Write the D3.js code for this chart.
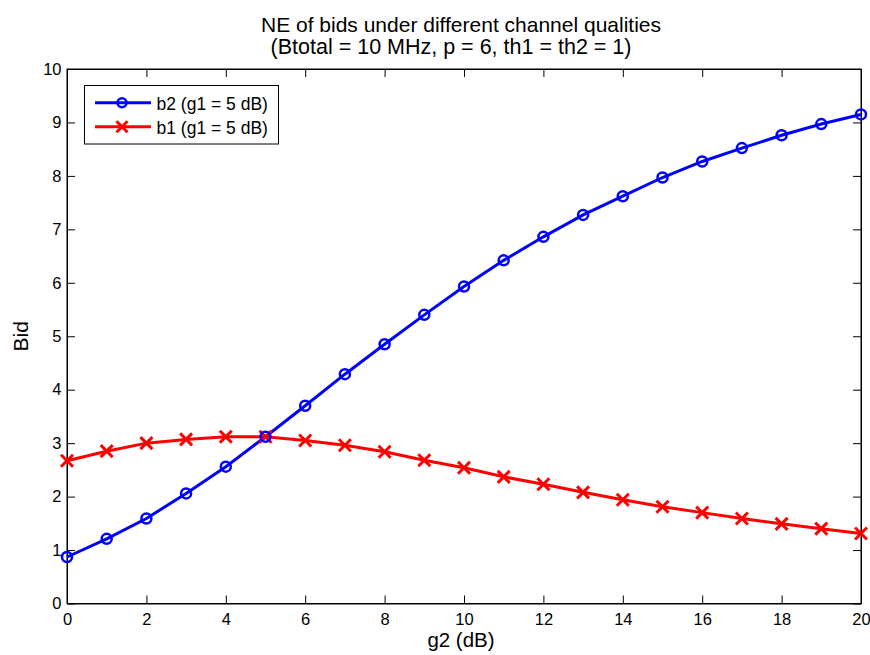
<!DOCTYPE html>
<html>
<head>
<meta charset="utf-8">
<script src="https://cdn.jsdelivr.net/npm/d3@7"></script>
<style>
  html, body { margin: 0; padding: 0; background: #fff; }
  svg text { font-family: "Liberation Sans", Arial, sans-serif; fill: #000; }
</style>
</head>
<body>
<svg id="chart" width="870" height="655"></svg>
<script>
// g2 channel quality (dB)
const g2 = [0,1,2,3,4,5,6,7,8,9,10,11,12,13,14,15,16,17,18,19,20];
// Equilibrium bids
const b2 = [0.87,1.21,1.59,2.06,2.56,3.12,3.70,4.29,4.85,5.40,5.93,6.42,6.86,7.27,7.62,7.97,8.27,8.52,8.76,8.97,9.15];
const b1 = [2.67,2.85,3.00,3.07,3.12,3.12,3.05,2.96,2.84,2.68,2.54,2.37,2.23,2.08,1.94,1.81,1.70,1.59,1.49,1.40,1.31];
const xTicks = [0,2,4,6,8,10,12,14,16,18,20];
const yTicks = [0,1,2,3,4,5,6,7,8,9,10];
const seriesNames = ["b2 (g1 = 5 dB)", "b1 (g1 = 5 dB)"];
const titleLines = ["NE of bids under different channel qualities", "(Btotal = 10 MHz, p = 6, th1 = th2 = 1)"];

const svg = d3.select("#chart");
const L = 67, R = 861, T = 69, B = 603.5;
const x = d3.scaleLinear().domain([0, 20]).range([L, R]);
const y = d3.scaleLinear().domain([0, 10]).range([B, T]);
const tickLen = 8;
const tickFont = 16.5;

// Frame
svg.append("rect").attr("x", L).attr("y", T).attr("width", R - L).attr("height", B - T)
  .attr("fill", "none").attr("stroke", "#000").attr("stroke-width", 1);

// Axes with inward ticks on all four sides
const axBottom = svg.append("g").attr("transform", `translate(0,${B})`)
  .call(d3.axisBottom(x).tickValues(xTicks).tickSizeInner(-tickLen).tickSizeOuter(0).tickPadding(9.5));
const axTop = svg.append("g").attr("transform", `translate(0,${T})`)
  .call(d3.axisTop(x).tickValues(xTicks).tickSizeInner(-tickLen).tickSizeOuter(0).tickFormat(""));
const axLeft = svg.append("g").attr("transform", `translate(${L},0)`)
  .call(d3.axisLeft(y).tickValues(yTicks).tickSizeInner(-tickLen).tickSizeOuter(0).tickPadding(5.5));
const axRight = svg.append("g").attr("transform", `translate(${R},0)`)
  .call(d3.axisRight(y).tickValues(yTicks).tickSizeInner(-tickLen).tickSizeOuter(0).tickFormat(""));
[axBottom, axTop, axLeft, axRight].forEach(g => {
  g.select(".domain").attr("stroke", "#000");
  g.selectAll(".tick line").attr("stroke", "#000");
  g.selectAll(".tick text").attr("font-size", tickFont).attr("font-family", "Liberation Sans, Arial, sans-serif").attr("fill", "#000");
});

// Lines
const line = d3.line().x((d, i) => x(g2[i])).y(d => y(d));
svg.append("path").datum(b1).attr("d", line).attr("fill", "none").attr("stroke", "#ff0000").attr("stroke-width", 3);
svg.append("path").datum(b2).attr("d", line).attr("fill", "none").attr("stroke", "#0000ff").attr("stroke-width", 3);

// Markers
function cross(g, cx, cy, s, color) {
  g.append("path").attr("d", `M${cx - s},${cy - s}L${cx + s},${cy + s}M${cx - s},${cy + s}L${cx + s},${cy - s}`)
    .attr("stroke", color).attr("stroke-width", 3).attr("fill", "none");
}
const mk1 = svg.append("g");
b1.forEach((v, i) => cross(mk1, x(g2[i]), y(v), 6, "#ff0000"));
svg.append("g").selectAll("circle").data(b2).join("circle")
  .attr("cx", (d, i) => x(g2[i])).attr("cy", d => y(d)).attr("r", 5)
  .attr("fill", "none").attr("stroke", "#0000ff").attr("stroke-width", 2.5);

// Legend
const lg = svg.append("g");
lg.append("rect").attr("x", 84.5).attr("y", 85.5).attr("width", 194).attr("height", 58.5)
  .attr("fill", "#fff").attr("stroke", "#000").attr("stroke-width", 1);
const legendY = [102.7, 126.7];
const legendColors = ["#0000ff", "#ff0000"];
seriesNames.forEach((name, k) => {
  const ly = legendY[k];
  lg.append("line").attr("x1", 95).attr("x2", 151).attr("y1", ly).attr("y2", ly)
    .attr("stroke", legendColors[k]).attr("stroke-width", 3);
  if (k === 0) {
    lg.append("circle").attr("cx", 122).attr("cy", ly).attr("r", 4.5)
      .attr("fill", "none").attr("stroke", "#0000ff").attr("stroke-width", 2.5);
  } else {
    cross(lg, 122, ly, 5.5, "#ff0000");
  }
  lg.append("text").attr("x", 156.5).attr("y", ly + 7).attr("font-size", 17.5).text(name);
});

// Titles and axis labels
svg.append("text").attr("x", 461).attr("y", 31.5).attr("text-anchor", "middle").attr("font-size", 21).text(titleLines[0]);
svg.append("text").attr("x", 451).attr("y", 53.5).attr("text-anchor", "middle").attr("font-size", 21.5).text(titleLines[1]);
svg.append("text").attr("x", 461).attr("y", 647).attr("text-anchor", "middle").attr("font-size", 20.5).text("g2 (dB)");
svg.append("text").attr("transform", `translate(28,${(T + B) / 2}) rotate(-90)`).attr("text-anchor", "middle").attr("font-size", 21).text("Bid");
</script>
</body>
</html>
